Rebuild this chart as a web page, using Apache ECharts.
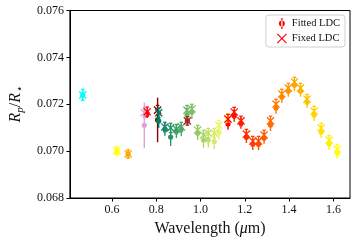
<!DOCTYPE html>
<html>
<head>
<meta charset="utf-8">
<script src="https://cdn.jsdelivr.net/npm/echarts@6/dist/echarts.min.js"></script>
<style>html,body{margin:0;padding:0;background:#fff;}#c{width:357px;height:242px;}</style>
</head>
<body>
<div id="c"></div>
<script>
// Wavelength of each spectral bin (micron)
const wavelength = [0.468, 0.622, 0.673, 0.746, 0.759, 0.806, 0.811, 0.839, 0.865, 0.891, 0.913, 0.939, 0.9406, 0.961, 0.987, 1.0135, 1.035, 1.062, 1.083, 1.1227,
  1.124, 1.152, 1.1825, 1.207, 1.236, 1.262, 1.287, 1.316, 1.341, 1.367, 1.3965, 1.424, 1.4515, 1.481, 1.513, 1.545, 1.581, 1.6175];
// Fitted limb darkening coefficients
const fittedDepth = [0.07240, 0.07001, 0.06988, 0.07110, 0.07161, 0.07133, 0.07129, 0.07094, 0.07060, 0.07086, 0.07094, 0.07154, 0.07129, 0.07167, 0.07077, 0.07047, 0.07047, 0.07041, 0.07079, 0.07133,
  0.07116, 0.07150, 0.07120, 0.07060, 0.07030, 0.07030, 0.07056, 0.07111, 0.07184, 0.07231, 0.07257, 0.07282, 0.07257, 0.07210, 0.07154, 0.07082, 0.07030, 0.06992];
const fittedErr = [0.00022, 0.00015, 0.00015, 0.00098, 0.00020, 0.00095, 0.00030, 0.00028, 0.00038, 0.00030, 0.00030, 0.00030, 0.00020, 0.00030, 0.00030, 0.00032, 0.00032, 0.00032, 0.00030, 0.00025,
  0.00025, 0.00025, 0.00025, 0.00025, 0.00025, 0.00025, 0.00025, 0.00025, 0.00025, 0.00025, 0.00025, 0.00025, 0.00025, 0.00025, 0.00025, 0.00025, 0.00025, 0.00025];
// Fixed limb darkening coefficients
const fixedDepth = [0.07240, 0.07001, 0.06988, 0.07164, 0.07168, 0.07175, 0.07163, 0.07103, 0.07099, 0.07094, 0.07103, 0.07175, 0.07129, 0.07180, 0.07090, 0.07069, 0.07077, 0.07077, 0.07111, 0.07141,
  0.07137, 0.07167, 0.07129, 0.07073, 0.07043, 0.07043, 0.07069, 0.07129, 0.07201, 0.07244, 0.07269, 0.07295, 0.07269, 0.07222, 0.07171, 0.07099, 0.07047, 0.07009];
const fixedErr = [0.00024, 0.00018, 0.00018, 0.00020, 0.00020, 0.00020, 0.00020, 0.00020, 0.00020, 0.00020, 0.00020, 0.00020, 0.00018, 0.00020, 0.00020, 0.00020, 0.00020, 0.00020, 0.00020, 0.00020,
  0.00020, 0.00020, 0.00020, 0.00020, 0.00020, 0.00020, 0.00020, 0.00020, 0.00020, 0.00020, 0.00020, 0.00020, 0.00020, 0.00020, 0.00020, 0.00020, 0.00020, 0.00020];
const pointColors = ['#00ffff', '#ffff00', '#ffa500', '#dda0dd', '#ff0000', '#8b0000',
  '#008066', '#158a66', '#2b9566', '#409f66', '#55aa66', '#6ab566', '#a52a2a', '#80bf66', '#95ca66', '#aad566', '#bfdf66', '#d5ea66', '#eaf466', '#ffff66',
  '#ff0000', '#ff0f00', '#ff1e00', '#ff2d00', '#ff3c00', '#ff4b00', '#ff5a00', '#ff6900', '#ff7800', '#ff8700', '#ff9600', '#ffa500', '#ffb400', '#ffc300', '#ffd200', '#ffe100', '#fff000', '#ffff00'];
const xTicks = [0.6, 0.8, 1.0, 1.2, 1.4, 1.6];
const seriesNames = ['Fitted LDC', 'Fixed LDC'];

const fittedData = wavelength.map((w, i) => [w, fittedDepth[i], fittedErr[i]]);
const fixedData = wavelength.map((w, i) => [w, fixedDepth[i], fixedErr[i]]);

const serif = 'Liberation Serif, DejaVu Serif, serif';
const ink = '#111';

function renderFitted(params, api) {
  const x = api.value(0), y = api.value(1), e = api.value(2);
  const c = api.coord([x, y]);
  const t = api.coord([x, y + e]);
  const b = api.coord([x, y - e]);
  const col = pointColors[params.dataIndex];
  return {
    type: 'group',
    children: [
      { type: 'line', shape: { x1: c[0], y1: t[1], x2: c[0], y2: b[1] }, style: { stroke: col, lineWidth: 1.4 } },
      { type: 'circle', shape: { cx: c[0], cy: c[1], r: 2.6 }, style: { fill: col } }
    ]
  };
}
function renderFixed(params, api) {
  const x = api.value(0), y = api.value(1), e = api.value(2);
  const c = api.coord([x, y]);
  const t = api.coord([x, y + e]);
  const b = api.coord([x, y - e]);
  const col = pointColors[params.dataIndex];
  const s = 3.6, cap = 1.8;
  const st = { stroke: col, lineWidth: 1.3 };
  return {
    type: 'group',
    children: [
      { type: 'line', shape: { x1: c[0], y1: t[1], x2: c[0], y2: b[1] }, style: st },
      { type: 'line', shape: { x1: c[0] - cap, y1: t[1], x2: c[0] + cap, y2: t[1] }, style: st },
      { type: 'line', shape: { x1: c[0] - cap, y1: b[1], x2: c[0] + cap, y2: b[1] }, style: st },
      { type: 'line', shape: { x1: c[0] - s, y1: c[1] - s, x2: c[0] + s, y2: c[1] + s }, style: st },
      { type: 'line', shape: { x1: c[0] - s, y1: c[1] + s, x2: c[0] + s, y2: c[1] - s }, style: st }
    ]
  };
}

const chart = echarts.init(document.getElementById('c'), null, { renderer: 'canvas' });
chart.setOption({
  animation: false,
  backgroundColor: '#fff',
  grid: { left: 61, right: 7, top: 10.5, bottom: 44, show: true, borderColor: '#000', borderWidth: 1, backgroundColor: 'transparent' },
  legend: {
    orient: 'vertical', right: 12, top: 15,
    backgroundColor: '#fff', borderColor: '#d0d0d0', borderWidth: 1, borderRadius: 3,
    padding: [3, 5, 3, 11], itemGap: 4, itemWidth: 10, itemHeight: 11,
    textStyle: { fontFamily: serif, fontSize: 10.5, color: ink },
    data: [
      { name: seriesNames[0], icon: 'path://M4.3,0 H5.7 V12 H4.3 Z M1.8,6 A3.2,3.2 0 1,0 8.2,6 A3.2,3.2 0 1,0 1.8,6 Z', itemStyle: { color: '#ff0000' } },
      { name: seriesNames[1], icon: 'path://M0.8,0 L5,4.2 L9.2,0 L10,0.8 L5.8,5 L10,9.2 L9.2,10 L5,5.8 L0.8,10 L0,9.2 L4.2,5 L0,0.8 Z', itemStyle: { color: '#ff0000' } }
    ]
  },
  xAxis: {
    type: 'value', min: 0.41, max: 1.675,
    splitLine: { show: false },
    axisLine: { show: true, onZero: false, lineStyle: { color: '#000', width: 1 } },
    axisTick: { show: true, length: 3.5, customValues: xTicks, lineStyle: { color: '#000' } },
    axisLabel: { customValues: xTicks, formatter: v => v.toFixed(1), fontFamily: serif, fontSize: 12, color: ink, margin: 6 },
    name: 'Wavelength ({m|μ}m)', nameLocation: 'middle', nameGap: 21,
    nameTextStyle: { fontFamily: serif, fontSize: 16, color: ink, rich: { m: { fontFamily: serif, fontStyle: 'italic', fontSize: 16, color: ink } } }
  },
  yAxis: {
    type: 'value', min: 0.068, max: 0.076, interval: 0.002,
    splitLine: { show: false },
    axisLine: { show: true, onZero: false, lineStyle: { color: '#000', width: 1 } },
    axisTick: { show: true, length: 3.5, lineStyle: { color: '#000' } },
    axisLabel: { formatter: v => v.toFixed(3), fontFamily: serif, fontSize: 12, color: ink, margin: 6 },
    name: '{i|R}{s|p}{u|/}{i|R}{s|⋆}', nameLocation: 'middle', nameGap: 40,
    nameTextStyle: {
      color: ink,
      rich: {
        i: { fontFamily: serif, fontStyle: 'italic', fontSize: 16, lineHeight: 20, verticalAlign: 'middle', color: ink },
        u: { fontFamily: serif, fontSize: 16, lineHeight: 20, verticalAlign: 'middle', color: ink },
        s: { fontFamily: serif, fontStyle: 'italic', fontSize: 11, lineHeight: 9, verticalAlign: 'bottom', color: ink }
      }
    }
  },
  series: [
    { name: seriesNames[0], type: 'custom', renderItem: renderFitted, data: fittedData, itemStyle: { color: '#ff0000' }, encode: { x: 0, y: 1 }, z: 2 },
    { name: seriesNames[1], type: 'custom', renderItem: renderFixed, data: fixedData, itemStyle: { color: '#ff0000' }, encode: { x: 0, y: 1 }, z: 3 }
  ]
});
</script>
</body>
</html>
